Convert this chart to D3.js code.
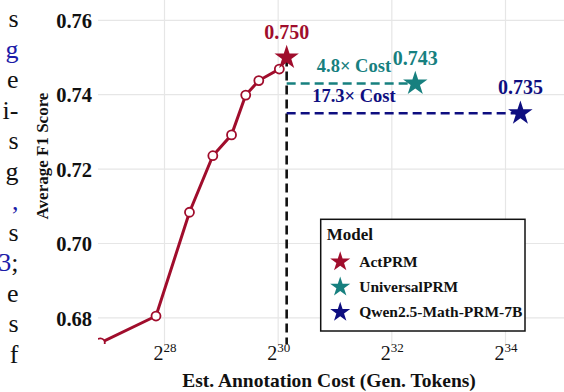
<!DOCTYPE html>
<html>
<head>
<meta charset="utf-8">
<script src="https://cdn.jsdelivr.net/npm/d3@7"></script>
<style>
body { margin: 0; background: #fff; }
svg { display: block; }
</style>
</head>
<body>
<svg id="chart"></svg>
<script>
// ActPRM curve: estimated annotation cost (generated tokens) vs average F1
var actCost = [1.227e8, 2.42e8, 3.64e8, 4.84e8, 6.08e8, 7.23e8, 8.48e8, 1.089e9, 1.191e9];
var actF1 = [0.6733, 0.6805, 0.7084, 0.7236, 0.7292, 0.7399, 0.7438, 0.7469, 0.750];

// final models (stars)
var models = ["ActPRM", "UniversalPRM", "Qwen2.5-Math-PRM-7B"];
var modelCost = [1.191e9, 5.717e9, 2.0604e10];
var modelF1 = [0.750, 0.743, 0.735];
var modelScoreLabels = ["0.750", "0.743", "0.735"];
var costLabels = ["", "4.8× Cost", "17.3× Cost"];

var xTickExponents = [28, 30, 32, 34];
var yTicks = [0.68, 0.70, 0.72, 0.74, 0.76];

// right edge of the neighbouring paper column, cut by the crop
var marginLines = ["s", "g", "e", "i-", "s", "g", ",", "s", "3;", "e", "s", "f"];

var colors = ["#a00d2c", "#17807f", "#0e0e80"];
var width = 564, height = 392;
var plot = { left: 98, right: 564, top: 0, bottom: 344 };
var serif = "'Liberation Serif', 'Times New Roman', serif";

var svg = d3.select("#chart")
    .attr("width", width)
    .attr("height", height)
    .style("font-family", serif);

var xScale = d3.scaleLog()
    .base(2)
    .domain([Math.pow(2, 28), Math.pow(2, 34)])
    .range([164.5, 505.5]);
var yScale = d3.scaleLinear()
    .domain([0.68, 0.76])
    .range([317.9, 20.3]);

drawMargin();
drawGrid();
drawAxes();
drawCurve();
drawModels();
drawLegend();

function drawMargin(){
    var links = { 1: "g", 6: ",", 8: "3" };
    marginLines.forEach(function(line, i){
        var t = svg.append("text")
            .attr("x", 18.5)
            .attr("y", 27 + i * 30.5)
            .attr("text-anchor", "end")
            .style("font-size", "26px");
        if (links[i]) {
            t.append("tspan").attr("fill", "#1c1ca8").text(links[i]);
            t.append("tspan").attr("fill", "#111").text(line.slice(links[i].length));
        } else {
            t.append("tspan").attr("fill", "#111").text(line);
        }
    });
}

function drawGrid(){
    var g = svg.append("g");
    g.selectAll("line.h")
        .data(yTicks)
        .enter()
        .append("line")
        .attr("x1", plot.left).attr("x2", plot.right)
        .attr("y1", function(d){ return yScale(d); })
        .attr("y2", function(d){ return yScale(d); })
        .attr("stroke", "#e6e6e6")
        .attr("stroke-width", 1.2);
    g.selectAll("line.v")
        .data(xTickExponents)
        .enter()
        .append("line")
        .attr("x1", function(d){ return xScale(Math.pow(2, d)); })
        .attr("x2", function(d){ return xScale(Math.pow(2, d)); })
        .attr("y1", plot.top).attr("y2", plot.bottom)
        .attr("stroke", "#e6e6e6")
        .attr("stroke-width", 1.2);
}

function drawAxes(){
    var yAxis = svg.append("g")
        .attr("transform", "translate(" + plot.left + ",0)")
        .call(d3.axisLeft(yScale).tickValues(yTicks).tickSize(0).tickPadding(6)
            .tickFormat(d3.format(".2f")));
    yAxis.select(".domain").remove();
    yAxis.selectAll("text")
        .attr("fill", "#111")
        .style("font-family", serif)
        .style("font-size", "20.5px")
        .style("font-weight", "bold")
        .attr("dy", "0.35em");

    var xAxis = svg.append("g")
        .attr("transform", "translate(0," + plot.bottom + ")")
        .call(d3.axisBottom(xScale).tickValues(xTickExponents.map(function(e){ return Math.pow(2, e); }))
            .tickSize(0).tickFormat(""));
    xAxis.select(".domain").remove();
    xAxis.selectAll(".tick text").each(function(d){
        var t = d3.select(this)
            .attr("y", 16)
            .attr("dy", 0)
            .attr("fill", "#111")
            .style("font-family", serif);
        t.append("tspan").style("font-size", "20px").text("2");
        t.append("tspan").style("font-size", "13px").attr("dy", -8)
            .text(Math.round(Math.log2(d)));
    });

    svg.append("text")
        .attr("x", 329)
        .attr("y", 387)
        .attr("text-anchor", "middle")
        .attr("fill", "#111")
        .style("font-size", "19.5px")
        .style("font-weight", "bold")
        .text("Est. Annotation Cost (Gen. Tokens)");

    svg.append("text")
        .attr("transform", "translate(48,156) rotate(-90)")
        .attr("text-anchor", "middle")
        .attr("fill", "#111")
        .style("font-size", "17px")
        .style("font-weight", "bold")
        .text("Average F1 Score");
}

function drawCurve(){
    svg.append("clipPath").attr("id", "plotClip")
        .append("rect")
        .attr("x", plot.left).attr("y", plot.top)
        .attr("width", plot.right - plot.left)
        .attr("height", plot.bottom - plot.top);
    var g = svg.append("g").attr("clip-path", "url(#plotClip)");
    var points = actCost.map(function(c, i){ return [c, actF1[i]]; });
    var line = d3.line()
        .x(function(d){ return xScale(d[0]); })
        .y(function(d){ return yScale(d[1]); });
    g.append("path")
        .datum(points)
        .attr("d", line)
        .attr("fill", "none")
        .attr("stroke", colors[0])
        .attr("stroke-width", 3);
    g.selectAll("circle")
        .data(points.slice(0, points.length - 1))
        .enter()
        .append("circle")
        .attr("cx", function(d){ return xScale(d[0]); })
        .attr("cy", function(d){ return yScale(d[1]); })
        .attr("r", 4.5)
        .attr("fill", "#fff")
        .attr("stroke", colors[0])
        .attr("stroke-width", 1.8);
}

function drawModels(){
    var x0 = xScale(modelCost[0]), y0 = yScale(modelF1[0]);
    var dashes = svg.append("g").attr("stroke-width", 2.6).attr("stroke-dasharray", "9,5");
    dashes.append("line")
        .attr("x1", x0).attr("x2", x0)
        .attr("y1", y0).attr("y2", plot.bottom)
        .attr("stroke", "#111");
    [1, 2].forEach(function(i){
        dashes.append("line")
            .attr("x1", x0).attr("x2", xScale(modelCost[i]))
            .attr("y1", yScale(modelF1[i])).attr("y2", yScale(modelF1[i]))
            .attr("stroke", colors[i]);
    });

    var star = d3.symbol().type(d3.symbolStar).size(185);
    var labelX = (x0 + xScale(modelCost[1])) / 2 + 3;
    models.forEach(function(m, i){
        var x = xScale(modelCost[i]), y = yScale(modelF1[i]);
        svg.append("path")
            .attr("d", star())
            .attr("transform", "translate(" + x + "," + y + ")")
            .attr("fill", colors[i]);
        svg.append("text")
            .attr("x", x)
            .attr("y", y - 19)
            .attr("text-anchor", "middle")
            .attr("fill", colors[i])
            .style("font-size", "20px")
            .style("font-weight", "bold")
            .text(modelScoreLabels[i]);
        if (costLabels[i]) {
            svg.append("text")
                .attr("x", labelX)
                .attr("y", y - 11.5)
                .attr("text-anchor", "middle")
                .attr("fill", colors[i])
                .style("font-size", "18.5px")
                .style("font-weight", "bold")
                .text(costLabels[i]);
        }
    });
}

function drawLegend(){
    var g = svg.append("g").attr("transform", "translate(320.7,219.3)");
    g.append("rect")
        .attr("width", 204.3).attr("height", 111.7)
        .attr("fill", "#fff")
        .attr("stroke", "#111")
        .attr("stroke-width", 1.5);
    g.append("text")
        .attr("x", 6).attr("y", 21)
        .attr("fill", "#111")
        .style("font-size", "17px")
        .style("font-weight", "bold")
        .text("Model");
    var star = d3.symbol().type(d3.symbolStar).size(125);
    models.forEach(function(m, i){
        var row = g.append("g").attr("transform", "translate(0," + (42.5 + i * 25.2) + ")");
        row.append("path")
            .attr("d", star())
            .attr("transform", "translate(19.5,0)")
            .attr("fill", colors[i]);
        row.append("text")
            .attr("x", 38.5).attr("y", 5)
            .attr("fill", "#111")
            .style("font-size", "15.5px")
            .style("font-weight", "bold")
            .text(m);
    });
}
</script>
</body>
</html>
